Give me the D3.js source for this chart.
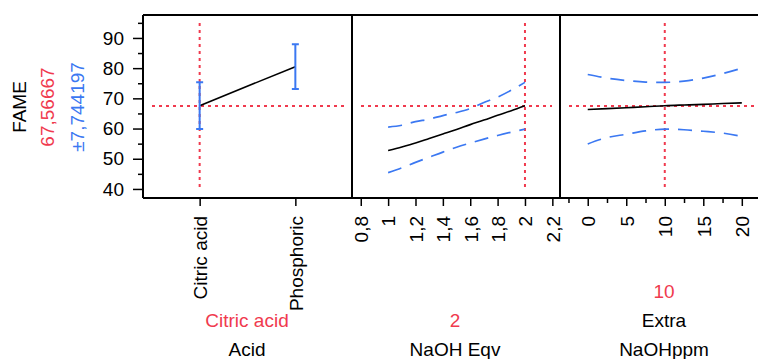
<!DOCTYPE html>
<html>
<head>
<meta charset="utf-8">
<script src="https://cdn.jsdelivr.net/npm/d3@7"></script>
<style>
    body { margin: 0; background: #fff; }
    svg { display: block; font-family: "Liberation Sans", Arial, sans-serif; }
</style>
</head>
<body>
<div id="chart"></div>
<script>

// ---- data ----
var fameCurrent = 67.56667;
var fameError = 7.744197;

// panel 1 : Acid (categorical)
var acidLevels = ["Citric acid", "Phosphoric"];
var acidFame = [67.57, 80.5];
var acidErr = [7.74, 7.4];

// panel 2 : NaOH Eqv
var naohEqv = [1.0, 1.1, 1.2, 1.3, 1.4, 1.5, 1.6, 1.7, 1.8, 1.9, 2.0];
var naohFame = [52.7, 53.9, 55.2, 56.7, 58.2, 59.7, 61.3, 62.8, 64.4, 65.9, 67.57];
var naohUpper = [60.5, 61.1, 62.3, 63.1, 64.3, 65.3, 66.6, 68.6, 70.4, 72.7, 75.3];
var naohLower = [45.4, 47.0, 48.8, 50.5, 52.2, 53.8, 55.2, 56.5, 57.7, 58.8, 59.8];
var naohTicks = [0.8, 1.0, 1.2, 1.4, 1.6, 1.8, 2.0, 2.2];

// panel 3 : Extra NaOHppm
var ppm = [0, 2.5, 5, 7.5, 10, 12.5, 15, 17.5, 20];
var ppmFame = [66.3, 66.6, 66.9, 67.2, 67.57, 67.8, 68.0, 68.3, 68.5];
var ppmUpper = [77.9, 76.7, 75.9, 75.4, 75.3, 75.7, 76.7, 78.2, 80.0];
var ppmLower = [54.9, 57.0, 58.1, 59.2, 59.8, 59.6, 59.1, 58.5, 57.4];
var ppmMajor = [0, 5, 10, 15, 20];
var ppmMinor = [-2.5, 2.5, 7.5, 12.5, 17.5, 22.5];

// current settings
var acidCurrent = "Citric acid";
var naohCurrent = 2;
var ppmCurrent = 10;

var yMajor = [40, 50, 60, 70, 80, 90];
var yMinor = [45, 55, 65, 75, 85, 95];

// ---- layout ----
var red = "#f03a4e";
var blue = "#3b78f2";
var fontSize = "19px";
var plotTop = 15, plotBottom = 198;

var svg = d3.select("#chart")
    .append("svg")
    .attr("width", 758)
    .attr("height", 359);

var y = d3.scaleLinear()
    .domain([37, 97.6])
    .range([plotBottom, plotTop]);

var x1 = d3.scalePoint()
    .domain(acidLevels)
    .range([143, 352])
    .padding(0.592);

var x2 = d3.scaleLinear()
    .domain([0.736, 2.256])
    .range([352, 560]);

var x3 = d3.scaleLinear()
    .domain([-3.6, 23.4])
    .range([560, 768]);

var comma = function(d) { return String(d).replace(".", ","); };

// y axis
var yAxis = svg.append("g")
    .attr("transform", "translate(143,0)")
    .call(d3.axisLeft(y).tickValues(yMajor).tickSize(10).tickPadding(9));
yAxis.select(".domain").remove();
yAxis.selectAll("text").style("font-size", fontSize).attr("fill", "#000");
yAxis.selectAll("line").attr("stroke", "#000").attr("stroke-width", 1.5);

var yMinorAxis = svg.append("g")
    .attr("transform", "translate(143,0)")
    .call(d3.axisLeft(y).tickValues(yMinor).tickSize(5).tickFormat(""));
yMinorAxis.select(".domain").remove();
yMinorAxis.selectAll("line").attr("stroke", "#000").attr("stroke-width", 1.5);

// y titles
var ytitles = [
    {text: "FAME", x: 19, color: "#000"},
    {text: comma(fameCurrent), x: 47, color: red},
    {text: "\u00b1" + comma(fameError), x: 77, color: blue}
];
ytitles.forEach(function(t) {
    svg.append("text")
        .attr("transform", "translate(" + t.x + ",107) rotate(-90)")
        .attr("text-anchor", "middle")
        .attr("dy", "0.35em")
        .style("font-size", fontSize)
        .attr("fill", t.color)
        .text(t.text);
});

// helper for bottom axes with rotated labels
function bottomAxis(scale, values, size, labels) {
    var g = svg.append("g")
        .attr("transform", "translate(0," + plotBottom + ")")
        .call(d3.axisBottom(scale).tickValues(values).tickSize(size)
            .tickFormat(labels ? labels : ""));
    g.select(".domain").remove();
    g.selectAll("line").attr("stroke", "#000").attr("stroke-width", 1.5);
    g.selectAll("text")
        .attr("transform", "rotate(-90)")
        .attr("x", -18)
        .attr("y", 0)
        .attr("dy", "0.36em")
        .style("text-anchor", "end")
        .style("font-size", fontSize)
        .attr("fill", "#000");
    return g;
}

bottomAxis(x1, acidLevels, 8, function(d) { return d; });
bottomAxis(x2, naohTicks, 8, function(d) { return comma(+d.toFixed(1)); });
bottomAxis(x3, ppmMajor, 8, function(d) { return d; });
bottomAxis(x3, ppmMinor, 5, null);

// reference lines (current value) in each panel
var panels = [
    {left: 143, right: 352, xRef: x1(acidCurrent)},
    {left: 352, right: 560, xRef: x2(naohCurrent)},
    {left: 560, right: 768, xRef: x3(ppmCurrent)}
];

var yRef = Math.round(y(fameCurrent));
panels.forEach(function(p) {
    svg.append("line")
        .attr("x1", p.left + 9).attr("x2", p.right - 8)
        .attr("y1", yRef).attr("y2", yRef)
        .attr("stroke", red).attr("stroke-width", 2)
        .attr("stroke-dasharray", "3,4");
    svg.append("line")
        .attr("x1", p.xRef).attr("x2", p.xRef)
        .attr("y1", plotTop + 8).attr("y2", plotBottom - 10)
        .attr("stroke", red).attr("stroke-width", 2)
        .attr("stroke-dasharray", "3,4");
});

// panel 1: line between levels plus error bars
svg.append("path")
    .datum(acidLevels)
    .attr("fill", "none")
    .attr("stroke", "#000")
    .attr("stroke-width", 1.6)
    .attr("d", d3.line()
        .x(function(d) { return x1(d); })
        .y(function(d, i) { return y(acidFame[i]); }));

acidLevels.forEach(function(level, i) {
    var cx = x1(level);
    var hi = y(acidFame[i] + acidErr[i]);
    var lo = y(acidFame[i] - acidErr[i]);
    svg.append("path")
        .attr("fill", "none")
        .attr("stroke", blue)
        .attr("stroke-width", 2)
        .attr("d", "M" + cx + "," + hi + "V" + lo +
            "M" + (cx - 3.5) + "," + hi + "H" + (cx + 3.5) +
            "M" + (cx - 3.5) + "," + lo + "H" + (cx + 3.5));
});

// panels 2 and 3: prediction line plus dashed confidence curves
function profile(xs, scale, mid, upper, lower) {
    [upper, lower].forEach(function(band) {
        svg.append("path")
            .datum(xs)
            .attr("fill", "none")
            .attr("stroke", blue)
            .attr("stroke-width", 1.7)
            .attr("stroke-dasharray", "14,9")
            .attr("d", d3.line()
                .curve(d3.curveMonotoneX)
                .x(function(d) { return scale(d); })
                .y(function(d, i) { return y(band[i]); }));
    });
    svg.append("path")
        .datum(xs)
        .attr("fill", "none")
        .attr("stroke", "#000")
        .attr("stroke-width", 1.6)
        .attr("d", d3.line()
            .curve(d3.curveMonotoneX)
            .x(function(d) { return scale(d); })
            .y(function(d, i) { return y(mid[i]); }));
}

profile(naohEqv, x2, naohFame, naohUpper, naohLower);
profile(ppm, x3, ppmFame, ppmUpper, ppmLower);

// frame and panel separators
svg.append("path")
    .attr("fill", "none")
    .attr("stroke", "#000")
    .attr("stroke-width", 2)
    .attr("d", "M143," + plotTop + "H768M143," + plotBottom + "H768" +
        "M143," + plotTop + "V" + plotBottom +
        "M352," + plotTop + "V" + plotBottom +
        "M560," + plotTop + "V" + plotBottom);

// factor names and current values under each panel
var footer = [
    {cx: 247, lines: [{t: acidCurrent, y: 327, c: red}, {t: "Acid", y: 356, c: "#000"}]},
    {cx: 455, lines: [{t: String(naohCurrent), y: 327, c: red}, {t: "NaOH Eqv", y: 356, c: "#000"}]},
    {cx: 664, lines: [{t: String(ppmCurrent), y: 298, c: red}, {t: "Extra", y: 327, c: "#000"},
        {t: "NaOHppm", y: 356, c: "#000"}]}
];

footer.forEach(function(f) {
    f.lines.forEach(function(l) {
        svg.append("text")
            .attr("x", f.cx)
            .attr("y", l.y)
            .attr("text-anchor", "middle")
            .style("font-size", fontSize)
            .attr("fill", l.c)
            .text(l.t);
    });
});

</script>
</body>
</html>
